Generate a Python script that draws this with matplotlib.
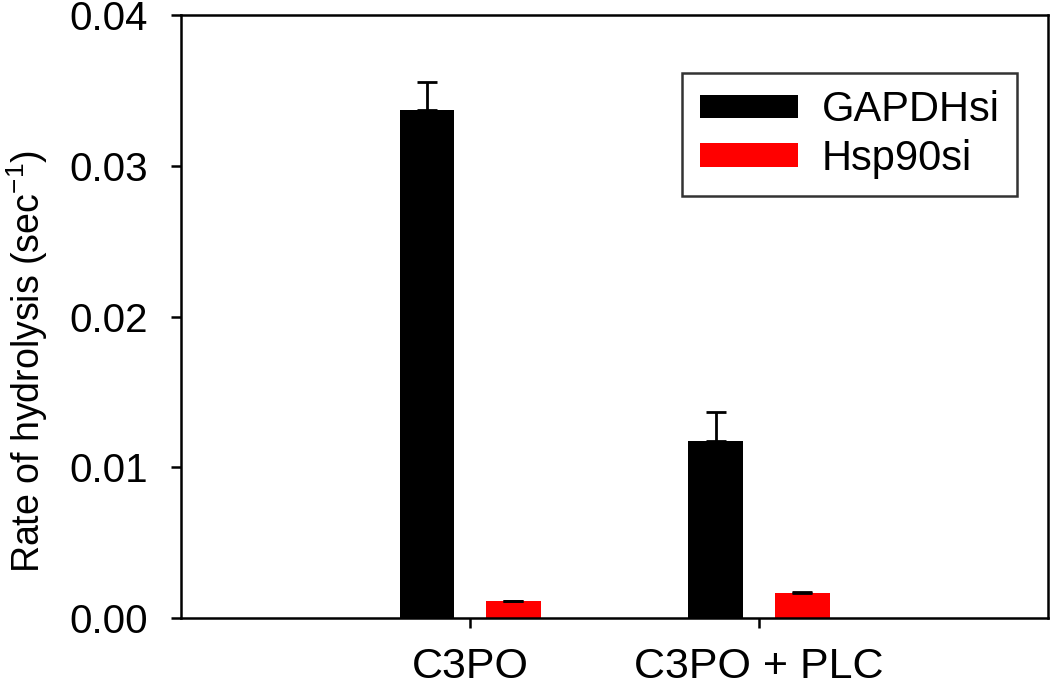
#!/usr/bin/env python
"""
Bar chart of hydrolysis rate for GAPDHsi and Hsp90si cells
"""

import numpy as np
import matplotlib
matplotlib.use("Agg")
import matplotlib.pyplot as plt

plt.rcParams['font.family'] = ['Liberation Sans', 'DejaVu Sans']
plt.rcParams['mathtext.fontset'] = 'custom'
plt.rcParams['mathtext.rm'] = 'Liberation Sans'
plt.rcParams['mathtext.it'] = 'Liberation Sans:italic'

# data
conditions = ['C3PO', 'C3PO + PLC']
series_names = ['GAPDHsi', 'Hsp90si']
gapdh_rate = [0.0337, 0.01174]
gapdh_err = [0.00186, 0.00195]
hsp90_rate = [0.00113, 0.00168]
hsp90_err = [0.00003, 0.00003]
y_ticks = [0.00, 0.01, 0.02, 0.03, 0.04]

fig = plt.figure(figsize=(10.5, 6.87), dpi=100)
ax = fig.add_axes([0.1724, 0.1004, 0.8257, 0.8778])

x = np.arange(1, len(conditions) + 1)
width = 0.19
offset = 0.149

# one-sided (upward) error bars
err_style = dict(elinewidth=2, capsize=7, capthick=2, ecolor='black')
ax.bar(x - offset, gapdh_rate, width, color='black', label=series_names[0],
       yerr=[np.zeros(len(gapdh_err)), gapdh_err], error_kw=err_style)
ax.bar(x + offset, hsp90_rate, width, color='#ff0000', label=series_names[1],
       yerr=[np.zeros(len(hsp90_err)), hsp90_err], error_kw=err_style)

ax.set_xlim(0, 3)
ax.set_ylim(0, 0.04)
ax.set_xticks(x)
ax.set_xticklabels(conditions)
ax.set_yticks(y_ticks)
ax.set_yticklabels(['%.2f' % t for t in y_ticks])

fig.text(27 / 1050, 0.473, r'Rate of hydrolysis (sec$^{\mathrm{-1}}$)',
         rotation=90, ha='center', va='center', fontsize=27)

for side in ['top', 'right', 'left', 'bottom']:
    ax.spines[side].set_linewidth(1.8)
ax.tick_params(direction='out', length=7, width=1.8)
ax.tick_params(axis='y', pad=17, labelsize=29)
ax.tick_params(axis='x', pad=14, labelsize=31)

leg = ax.legend(loc='upper right', bbox_to_anchor=(0.9643, 0.9038),
                fontsize=30, frameon=True, fancybox=False, edgecolor='black',
                handlelength=2.36, handleheight=0.48, borderpad=0.42,
                labelspacing=0.2, handletextpad=0.57, borderaxespad=0)
leg.get_frame().set_linewidth(1.8)

fig.savefig('out.png', dpi=100)
